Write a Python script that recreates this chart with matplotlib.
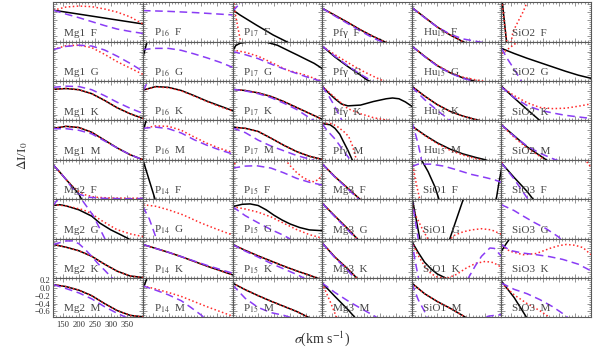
import matplotlib
matplotlib.use("Agg")
import matplotlib.pyplot as plt
from matplotlib.ticker import MultipleLocator

plt.rcParams['font.family'] = ['Liberation Serif', 'DejaVu Serif']
plt.rcParams['mathtext.fontset'] = 'stix'

# panel names, row by row (8 rows x 6 columns)
LABELS = [
    ["Mg1 F", "P16 F", "P17 F", "Pfγ F", "Hu15 F", "SiO2 F"],
    ["Mg1 G", "P16 G", "P17 G", "Pfγ G", "Hu15 G", "SiO2 G"],
    ["Mg1 K", "P16 K", "P17 K", "Pfγ K", "Hu15 K", "SiO2 K"],
    ["Mg1 M", "P16 M", "P17 M", "Pfγ M", "Hu15 M", "SiO2 M"],
    ["Mg2 F", "P14 F", "P15 F", "Mg3 F", "SiO1 F", "SiO3 F"],
    ["Mg2 G", "P14 G", "P15 G", "Mg3 G", "SiO1 G", "SiO3 G"],
    ["Mg2 K", "P14 K", "P15 K", "Mg3 K", "SiO1 K", "SiO3 K"],
    ["Mg2 M", "P14 M", "P15 M", "Mg3 M", "SiO1 M", "SiO3 M"],
]

XTICKS = [150, 200, 250, 300, 350]
YTICKS = [0.2, 0.0, -0.2, -0.4, -0.6]

# (sigma, dI/I0); solid black curves
BLACK = {
    "Mg1 F": [(120, 0.05), (160, 0.0), (200, -0.05), (240, -0.10), (280, -0.15), (320, -0.20), (360, -0.25), (400, -0.30)],
    "P17 F": [(120, 0.06), (143, -0.07), (195, -0.33), (247, -0.58), (289, -0.75), (300, -0.80)],
    "Pfγ F": [(120, 0.10), (160, -0.08), (200, -0.26), (240, -0.45), (280, -0.62), (320, -0.77), (340, -0.83)],
    "Hu15 F": [(120, 0.12), (160, -0.13), (200, -0.38), (240, -0.58), (280, -0.75), (300, -0.82)],
    "SiO2 F": [(122, 0.35), (123, 0.25), (136, -0.75), (138, -0.90)],
    "P16 G": [(120, -0.15), (133, 0.25), (136, 0.33)],
    "P17 G": [(120, 0.0), (130, 0.15), (143, 0.21), (174, 0.25), (190, 0.28), (205, 0.28), (221, 0.25),
              (260, 0.16), (300, 0.0), (323, -0.09), (350, -0.20), (375, -0.30), (400, -0.43)],
    "Pfγ G": [(120, 0.14), (160, -0.14), (200, -0.38), (240, -0.60), (260, -0.72), (280, -0.80)],
    "Hu15 G": [(120, 0.14), (160, -0.12), (200, -0.36), (240, -0.54), (280, -0.67), (320, -0.76)],
    "SiO2 G": [(120, 0.08), (160, -0.05), (200, -0.17), (240, -0.28), (280, -0.39), (320, -0.50), (360, -0.60), (400, -0.68)],
    "Mg1 K": [(120, 0.04), (160, 0.06), (200, 0.03), (240, -0.07), (280, -0.24), (320, -0.43), (360, -0.58), (400, -0.70)],
    "P16 K": [(120, 0.02), (160, 0.11), (200, 0.09), (240, 0.01), (280, -0.12), (320, -0.26), (360, -0.38), (400, -0.50)],
    "P17 K": [(120, 0.04), (160, 0.01), (200, -0.05), (240, -0.14), (280, -0.27), (320, -0.42), (360, -0.57), (400, -0.72)],
    "Pfγ K": [(120, 0.12), (140, -0.05), (160, -0.20), (180, -0.33), (200, -0.38), (240, -0.36), (280, -0.27),
              (320, -0.20), (340, -0.18), (360, -0.20), (380, -0.28), (400, -0.39)],
    "Hu15 K": [(120, 0.12), (160, -0.13), (200, -0.35), (240, -0.52), (280, -0.64), (320, -0.73), (340, -0.77)],
    "SiO2 K": [(120, 0.12), (160, -0.18), (200, -0.47), (240, -0.75), (250, -0.82)],
    "Mg1 M": [(120, 0.05), (160, 0.10), (200, 0.07), (240, -0.05), (280, -0.25), (320, -0.45), (360, -0.62), (400, -0.75)],
    "P16 M": [(120, -0.05), (130, 0.25), (133, 0.35)],
    "P17 M": [(120, 0.08), (160, 0.05), (200, -0.03), (240, -0.20), (280, -0.38), (320, -0.54), (360, -0.66), (400, -0.74)],
    "Pfγ M": [(120, 0.17), (145, 0.14), (160, 0.05), (175, -0.10), (186, -0.28), (200, -0.50), (214, -0.75), (220, -0.85)],
    "Hu15 M": [(120, 0.11), (160, -0.12), (200, -0.32), (240, -0.48), (280, -0.60), (320, -0.69), (350, -0.75), (360, -0.78)],
    "SiO2 M": [(120, 0.14), (160, -0.14), (200, -0.42), (240, -0.64), (260, -0.75), (270, -0.80)],
    "Mg2 F": [(120, 0.12), (140, -0.06), (160, -0.25), (180, -0.43), (200, -0.62), (208, -0.75), (212, -0.80)],
    "P14 F": [(119, 0.30), (120, 0.25), (158, -0.75), (160, -0.80)],
    "Mg3 F": [(120, 0.15), (160, -0.18), (200, -0.47), (238, -0.75), (242, -0.80)],
    "SiO1 F": [(145, 0.33), (150, 0.25), (171, -0.05), (192, -0.43), (205, -0.75), (230, -1.5), (300, -2.0),
               (370, -1.5), (384, -0.75), (392, -0.35), (400, 0.0)],
    "SiO3 F": [(120, 0.17), (160, -0.20), (200, -0.55), (219, -0.75), (225, -0.82)],
    "Mg2 G": [(120, 0.09), (140, 0.11), (160, 0.08), (200, -0.02), (240, -0.18), (266, -0.36), (300, -0.53),
              (330, -0.65), (354, -0.75), (360, -0.78)],
    "P15 G": [(120, 0.06), (150, 0.12), (175, 0.13), (200, 0.09), (225, -0.02), (250, -0.16), (275, -0.28),
              (300, -0.38), (330, -0.47), (360, -0.53), (400, -0.55)],
    "Mg3 G": [(120, 0.15), (160, -0.18), (200, -0.50), (230, -0.76), (235, -0.80)],
    "SiO1 G": [(120, 0.35), (122, 0.25), (145, -0.75), (160, -1.3), (200, -1.6), (230, -1.2), (239, -0.75),
               (281, 0.25), (285, 0.35)],
    "Mg2 K": [(120, 0.10), (160, 0.03), (200, -0.06), (240, -0.20), (280, -0.40), (320, -0.58), (360, -0.70), (400, -0.74)],
    "P14 K": [(120, 0.10), (160, 0.0), (200, -0.10), (240, -0.21), (280, -0.33), (320, -0.45), (360, -0.56), (400, -0.67)],
    "P15 K": [(120, 0.10), (160, -0.05), (200, -0.19), (240, -0.32), (280, -0.45), (320, -0.57), (360, -0.68), (380, -0.74), (390, -0.77)],
    "Mg3 K": [(120, 0.14), (160, -0.22), (200, -0.52), (228, -0.75), (232, -0.80)],
    "SiO1 K": [(120, 0.18), (140, -0.10), (160, -0.35), (180, -0.52), (200, -0.65), (225, -0.75), (235, -0.80)],
    "SiO3 K": [(120, -0.07), (135, 0.12), (146, 0.25), (150, 0.30)],
    "Mg2 M": [(120, 0.08), (160, 0.03), (200, -0.06), (240, -0.20), (280, -0.40), (320, -0.58), (360, -0.70), (400, -0.74)],
    "P14 M": [(120, -0.04), (133, 0.25), (136, 0.30)],
    "P15 M": [(120, 0.12), (160, -0.05), (200, -0.20), (240, -0.34), (280, -0.47), (320, -0.60), (360, -0.76)],
    "Mg3 M": [(120, 0.12), (160, -0.22), (200, -0.55), (222, -0.75), (226, -0.80)],
    "SiO1 M": [(120, 0.12), (160, -0.15), (200, -0.35), (240, -0.52), (280, -0.71), (290, -0.76)],
    "SiO3 M": [(120, 0.17), (160, -0.25), (200, -0.77)],
}

# red dotted curves
RED = {
    "Mg1 F": [(120, 0.05), (160, 0.13), (200, 0.155), (240, 0.14), (280, 0.08), (320, 0.0), (360, -0.12), (400, -0.30)],
    "P17 F": [(119, 0.50), (124, 0.25), (130, -0.10), (137, -0.40), (144, -0.70), (146, -0.80)],
    "Pfγ F": BLACK["Pfγ F"],
    "Hu15 F": BLACK["Hu15 F"],
    "SiO2 F": [(121, 0.30), (126, 0.0), (131, -0.40), (137, -0.75), (145, -0.88), (150, -0.78), (156, -0.50),
               (172, -0.24), (188, 0.01), (200, 0.25), (205, 0.35)],
    "Mg1 G": [(120, 0.05), (160, 0.15), (200, 0.16), (240, 0.10), (280, -0.07), (320, -0.26), (360, -0.42), (400, -0.58)],
    "P17 G": [(120, 0.04), (160, -0.02), (200, -0.12), (247, -0.30), (290, -0.47), (340, -0.58), (375, -0.68), (400, -0.76)],
    "Pfγ G": [(120, 0.14), (160, -0.08), (200, -0.28), (240, -0.47), (280, -0.63), (320, -0.78)],
    "Hu15 G": [(120, 0.14), (160, -0.12), (200, -0.35), (240, -0.53), (280, -0.65), (320, -0.72), (350, -0.76)],
    "SiO2 G": [(120, -0.05), (130, 0.0), (150, 0.12), (172, 0.25), (180, 0.30)],
    "Mg1 K": BLACK["Mg1 K"],
    "P16 K": [(120, 0.02), (160, 0.10), (200, 0.08), (240, 0.0), (280, -0.13), (320, -0.27), (360, -0.40), (400, -0.51)],
    "P17 K": BLACK["P17 K"],
    "Pfγ K": [(120, 0.12), (160, -0.17), (200, -0.45), (240, -0.58), (280, -0.68), (320, -0.74), (360, -0.78)],
    "Hu15 K": BLACK["Hu15 K"],
    "SiO2 K": [(120, 0.10), (160, -0.12), (200, -0.30), (240, -0.42), (280, -0.45), (320, -0.44), (360, -0.39), (400, -0.33)],
    "Mg1 M": BLACK["Mg1 M"],
    "P16 M": [(120, 0.05), (160, 0.11), (200, 0.10), (240, 0.0), (280, -0.17), (320, -0.33), (360, -0.46), (400, -0.56)],
    "P17 M": BLACK["P17 M"],
    "Pfγ M": [(120, 0.17), (150, 0.17), (170, 0.08), (190, -0.05), (203, -0.16), (215, -0.40), (227, -0.75), (232, -0.85)],
    "Hu15 M": [(120, 0.11), (160, -0.13), (200, -0.34), (240, -0.51), (280, -0.63), (320, -0.72), (340, -0.76)],
    "SiO2 M": [(120, 0.14), (160, -0.18), (200, -0.45), (240, -0.66), (255, -0.76)],
    "Mg2 F": [(120, 0.12), (140, -0.06), (160, -0.25), (180, -0.42), (200, -0.55), (220, -0.64), (250, -0.70),
              (300, -0.72), (400, -0.73)],
    "P15 F": [(120, 0.05), (130, 0.20), (135, 0.30), (200, 0.80), (270, 0.50), (285, 0.25), (300, 0.10), (320, -0.07),
              (340, -0.20), (360, -0.28), (375, -0.31), (390, -0.24), (400, -0.13)],
    "Mg3 F": BLACK["Mg3 F"],
    "SiO1 F": [(120, 0.20), (124, 0.12), (130, -0.20), (138, -0.50), (145, -0.75), (148, -0.85)],
    "SiO3 F": [(120, 0.17), (130, 0.25), (140, 0.35), (250, 0.80), (370, 0.35), (380, 0.25), (391, 0.16), (400, 0.05)],
    "Mg2 G": [(120, 0.11), (160, 0.08), (214, -0.02), (240, -0.12), (266, -0.27), (318, -0.52), (360, -0.63), (400, -0.70)],
    "P14 G": [(120, 0.11), (160, 0.07), (200, -0.02), (246, -0.15), (300, -0.35), (350, -0.51), (400, -0.66)],
    "P15 G": [(120, 0.06), (160, 0.0), (200, -0.08), (240, -0.20), (280, -0.36), (320, -0.52), (360, -0.65), (400, -0.74)],
    "Mg3 G": BLACK["Mg3 G"],
    "SiO1 G": [(120, 0.20), (126, -0.06), (141, -0.31), (157, -0.57), (170, -0.75), (200, -0.90), (235, -0.80),
               (255, -0.66), (280, -0.58), (307, -0.53), (338, -0.50), (369, -0.53), (400, -0.64)],
    "Mg2 K": BLACK["Mg2 K"],
    "P14 K": BLACK["P14 K"],
    "P15 K": BLACK["P15 K"],
    "Mg3 K": BLACK["Mg3 K"],
    "SiO1 K": [(120, 0.18), (140, -0.18), (160, -0.45), (180, -0.64), (200, -0.73), (230, -0.76), (260, -0.66),
               (290, -0.50), (320, -0.38), (350, -0.33), (375, -0.36), (400, -0.48)],
    "SiO3 K": [(120, 0.08), (146, -0.07), (188, -0.16), (229, -0.13), (271, 0.0), (300, 0.07), (323, 0.10),
               (350, 0.08), (375, 0.02), (400, -0.16)],
    "Mg2 M": BLACK["Mg2 M"],
    "P14 M": [(120, 0.05), (160, -0.03), (200, -0.12), (240, -0.22), (280, -0.35), (320, -0.48), (360, -0.60), (400, -0.72)],
    "P15 M": BLACK["P15 M"],
    "Mg3 M": [(120, 0.12), (145, -0.35), (165, -0.75), (168, -0.80)],
    "SiO1 M": BLACK["SiO1 M"],
    "SiO3 M": [(120, 0.12), (160, -0.18), (200, -0.40), (240, -0.58), (272, -0.76)],
}

# violet dashed curves
BLUE = {
    "Mg1 F": [(120, 0.05), (160, -0.05), (200, -0.14), (240, -0.24), (280, -0.34), (320, -0.43), (360, -0.49), (400, -0.54)],
    "P16 F": [(120, 0.04), (200, 0.02), (280, -0.01), (340, -0.04), (400, -0.07)],
    "P17 F": [(120, 0.02), (135, 0.15), (153, 0.27), (160, 0.35)],
    "Pfγ F": [(120, 0.10), (160, -0.10), (200, -0.29), (240, -0.48), (280, -0.66), (320, -0.80)],
    "Hu15 F": [(120, 0.12), (160, -0.14), (200, -0.38), (240, -0.56), (280, -0.68), (320, -0.74), (360, -0.80)],
    "Mg1 G": [(120, 0.05), (160, 0.13), (200, 0.16), (240, 0.14), (280, 0.04), (320, -0.12), (360, -0.30), (400, -0.50)],
    "P16 G": [(120, 0.05), (160, 0.08), (200, 0.08), (240, 0.03), (280, -0.06), (320, -0.16), (360, -0.27), (400, -0.40)],
    "P17 G": [(120, 0.0), (160, -0.08), (200, -0.18), (247, -0.34), (300, -0.50), (350, -0.64), (395, -0.75), (400, -0.77)],
    "Pfγ G": [(120, 0.14), (160, -0.12), (200, -0.36), (240, -0.58), (280, -0.77)],
    "Hu15 G": [(120, 0.14), (160, -0.13), (200, -0.37), (240, -0.55), (280, -0.68), (320, -0.77)],
    "SiO2 G": [(120, 0.08), (140, -0.20), (160, -0.45), (180, -0.72), (185, -0.80)],
    "Mg1 K": [(120, 0.09), (160, 0.12), (200, 0.11), (240, 0.03), (280, -0.12), (320, -0.29), (360, -0.44), (400, -0.57)],
    "P16 K": [(120, 0.0), (130, 0.15), (137, 0.30)],
    "P17 K": [(120, 0.04), (160, 0.0), (200, -0.07), (240, -0.17), (280, -0.31), (320, -0.47), (360, -0.68), (380, -0.78)],
    "Pfγ K": [(120, 0.12), (140, -0.12), (160, -0.40), (180, -0.72), (190, -0.85)],
    "Hu15 K": [(120, 0.10), (160, -0.22), (200, -0.50), (240, -0.75), (250, -0.80)],
    "SiO2 K": [(120, 0.10), (160, -0.17), (200, -0.37), (240, -0.49), (280, -0.56), (320, -0.62), (360, -0.66), (400, -0.70)],
    "Mg1 M": [(120, 0.04), (160, 0.04), (200, 0.0), (240, -0.09), (280, -0.27), (320, -0.45), (360, -0.62), (400, -0.75)],
    "P16 M": [(120, 0.05), (160, 0.08), (200, 0.04), (240, -0.07), (280, -0.24), (320, -0.38), (360, -0.50), (400, -0.60)],
    "P17 M": [(120, 0.06), (160, -0.06), (200, -0.25), (240, -0.40), (280, -0.52), (320, -0.64), (360, -0.73), (380, -0.78)],
    "Pfγ M": [(120, 0.17), (135, 0.0), (160, -0.22), (185, -0.50), (205, -0.72), (210, -0.80)],
    "Hu15 M": [(120, 0.22), (130, -0.05), (140, -0.35), (146, -0.58), (150, -0.75), (152, -0.80)],
    "SiO2 M": [(120, 0.14), (160, -0.15), (200, -0.40), (240, -0.58), (280, -0.72), (300, -0.78)],
    "Mg2 F": [(120, 0.12), (140, -0.06), (160, -0.25), (180, -0.48), (200, -0.62), (230, -0.70), (280, -0.73),
              (360, -0.74), (400, -0.73)],
    "P15 F": [(120, 0.04), (160, 0.09), (195, 0.10), (240, 0.04), (280, -0.08), (320, -0.22), (360, -0.32), (400, -0.39)],
    "Mg3 F": [(120, 0.15), (160, -0.19), (200, -0.49), (235, -0.76), (240, -0.80)],
    "SiO1 F": [(120, 0.08), (140, 0.14), (180, 0.14), (220, 0.09), (254, 0.01), (306, -0.12), (350, -0.20),
               (379, -0.26), (400, -0.32)],
    "SiO3 F": [(120, 0.17), (160, -0.24), (203, -0.75), (208, -0.80)],
    "Mg2 G": [(120, 0.10), (135, 0.25), (165, 0.40), (195, 0.35), (208, 0.25), (245, -0.17), (281, -0.75), (290, -0.85)],
    "P14 G": [(120, 0.06), (140, -0.25), (162, -0.75), (165, -0.82)],
    "P15 G": [(120, 0.06), (160, -0.17), (200, -0.35), (240, -0.52), (280, -0.67), (300, -0.76)],
    "Mg3 G": [(120, 0.15), (160, -0.20), (200, -0.53), (226, -0.76), (230, -0.80)],
    "SiO1 G": [(120, 0.30), (121, 0.22), (140, -0.75), (143, -0.85)],
    "SiO3 G": [(120, 0.11), (160, -0.04), (182, -0.15), (220, -0.33), (260, -0.50), (297, -0.70), (305, -0.76)],
    "Mg2 K": [(120, 0.10), (160, 0.19), (180, 0.19), (200, 0.12), (220, -0.03), (240, -0.20), (260, -0.39),
              (280, -0.55), (300, -0.72), (310, -0.80)],
    "P14 K": [(120, 0.10), (160, 0.0), (200, -0.10), (240, -0.21), (280, -0.32), (320, -0.43), (360, -0.53), (400, -0.63)],
    "P15 K": [(120, 0.10), (160, -0.07), (200, -0.22), (240, -0.38), (280, -0.52), (320, -0.66), (345, -0.76)],
    "Mg3 K": [(120, 0.14), (160, -0.24), (200, -0.56), (222, -0.76)],
    "SiO1 K": [(120, 0.22), (130, -0.30), (141, -0.75), (150, -1.2), (250, -1.5), (290, -0.9), (297, -0.75),
               (318, -0.45), (338, -0.20), (364, 0.01), (378, 0.0), (400, -0.20)],
    "SiO3 K": [(120, 0.10), (146, -0.05), (188, -0.12), (229, -0.16), (271, -0.21), (312, -0.28), (360, -0.40), (400, -0.57)],
    "Mg2 M": [(120, 0.08), (160, -0.02), (200, -0.13), (240, -0.28), (280, -0.48), (320, -0.65), (350, -0.76)],
    "P14 M": [(120, 0.05), (160, -0.06), (200, -0.18), (240, -0.33), (270, -0.50), (300, -0.68), (312, -0.76)],
    "P15 M": [(120, 0.08), (140, -0.10), (160, -0.27), (200, -0.50), (240, -0.63), (280, -0.70), (300, -0.75)],
    "Mg3 M": [(120, 0.12), (160, -0.12), (200, -0.33), (240, -0.52), (280, -0.70), (292, -0.76)],
    "SiO1 M": [(120, 0.12), (140, -0.30), (160, -0.60), (168, -0.76), (200, -1.3), (300, -1.3), (340, -0.78),
               (360, -0.72), (400, -0.68)],
    "SiO3 M": [(120, 0.12), (160, -0.04), (200, -0.15), (240, -0.30), (280, -0.48), (320, -0.70), (330, -0.78)],
}


def pretty(name):
    # P16 -> P_16, Hu15 -> Hu_15 ; the others stay as they are
    line, part = name.split(" ")
    for pre in ("Hu", "P"):
        if line.startswith(pre) and line[len(pre):].isdigit():
            line = pre + r"$_{\rm " + line[len(pre):] + "}$"
            break
    return line + "  " + part


fig, axes = plt.subplots(8, 6, figsize=(5.98, 3.49), dpi=100, sharex=True, sharey=True)
fig.subplots_adjust(left=0.0891, right=0.9883, top=0.9934, bottom=0.0908, wspace=0, hspace=0)

frame = '#5a5a5a'
for r, row in enumerate(LABELS):
    for c, name in enumerate(row):
        ax = axes[r, c]
        for data, style in ((BLACK, dict(color='black', lw=1.1, ls='-')),
                            (RED, dict(color='#ff2a2a', lw=1.1, ls=(0, (1, 1.6)))),
                            (BLUE, dict(color='#8a3cf5', lw=1.1, ls=(0, (5, 3))))):
            pts = data.get(name, [])
            if pts:
                ax.plot([p[0] for p in pts], [p[1] for p in pts], **style)
        ax.text(0.12, 0.15, pretty(name), transform=ax.transAxes, fontsize=8,
                color='#444444', va='baseline')
        ax.set_xlim(120, 400)
        ax.set_ylim(-0.75, 0.25)
        ax.xaxis.set_minor_locator(MultipleLocator(10))
        ax.yaxis.set_minor_locator(MultipleLocator(0.05))
        ax.tick_params(which='both', direction='in', top=True, right=True,
                       color=frame, width=0.45, labelsize=6.2, labelcolor='#333333', pad=2)
        ax.tick_params(which='major', length=2.8)
        ax.tick_params(which='minor', length=1.3)
        for s in ax.spines.values():
            s.set_color(frame)
            s.set_linewidth(0.8)
        if not (r == 7 and c == 0):
            ax.tick_params(labelbottom=False, labelleft=False)

axes[7, 0].set_xticks(XTICKS)
axes[7, 0].set_yticks(YTICKS)
axes[7, 0].set_yticklabels([f"{v:.1f}".replace("-", "\u2212") for v in YTICKS])
axes[7, 0].tick_params(axis='x', pad=3)

fig.text(0.037, 0.555, r"$\Delta$I/I$_{\rm 0}$", rotation=90, fontsize=9.5,
         color='#333333', ha='center', va='center')
fig.text(0.539, 0.03, r"$\sigma$(km s$^{-1}$)", fontsize=10, color='#333333',
         ha='center', va='center')

fig.savefig("out.png", dpi=100)
